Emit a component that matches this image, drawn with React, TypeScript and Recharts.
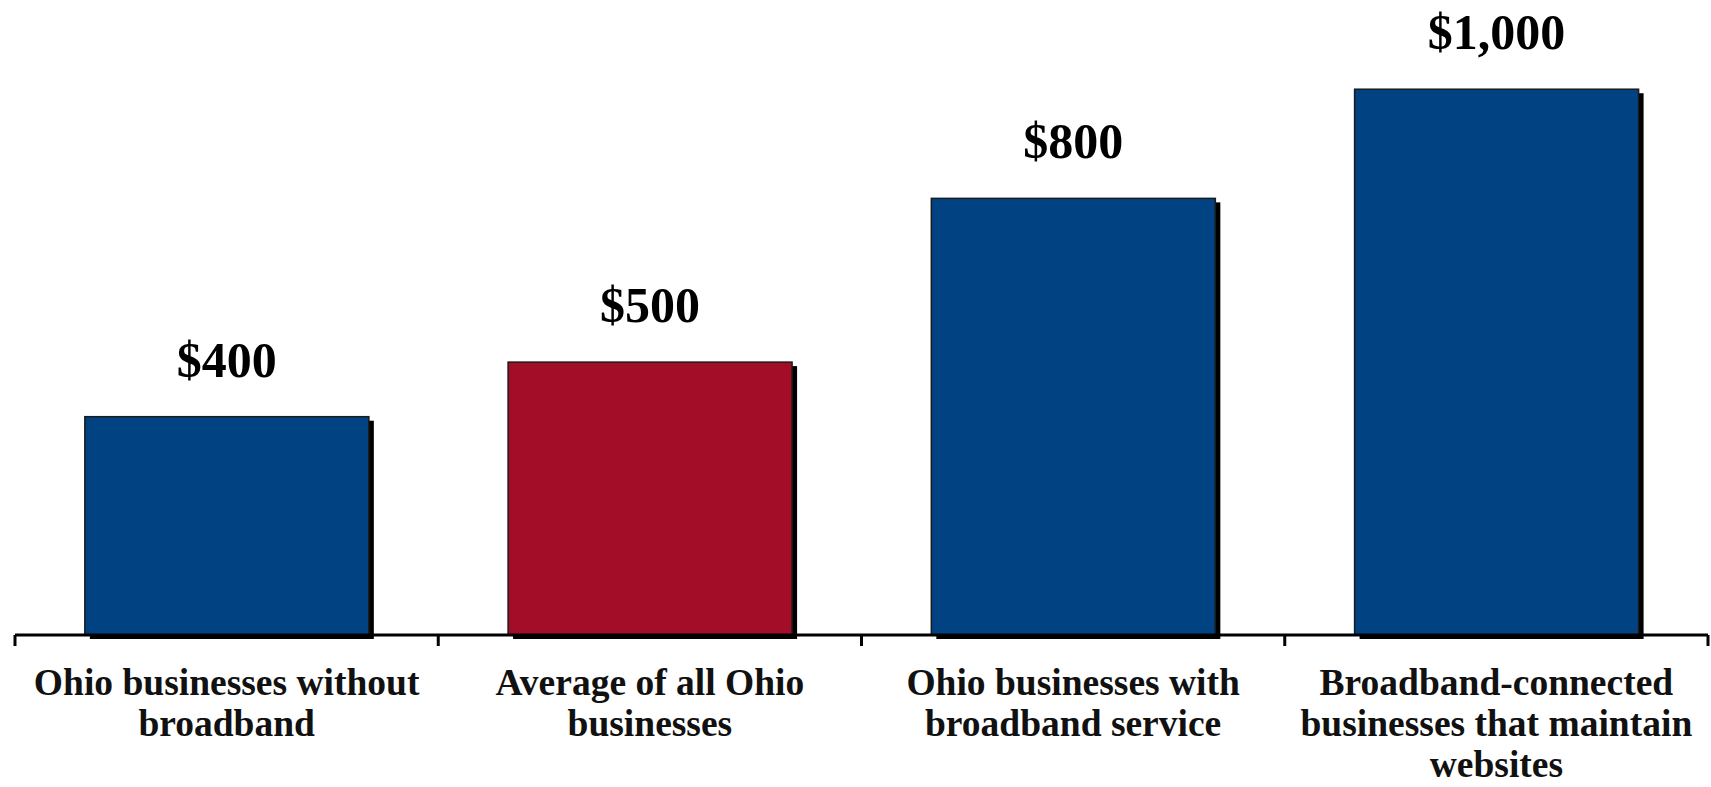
import { BarChart, Bar, XAxis, YAxis, LabelList } from "recharts";

const categories = [
  "Ohio businesses without broadband",
  "Average of all Ohio businesses",
  "Ohio businesses with broadband service",
  "Broadband-connected businesses that maintain websites",
];

const tickLines = [
  ["Ohio businesses without", "broadband"],
  ["Average of all Ohio", "businesses"],
  ["Ohio businesses with", "broadband service"],
  ["Broadband-connected", "businesses that maintain", "websites"],
];

const revenue = [400, 500, 800, 1000];

const highlighted = "Average of all Ohio businesses";

const data = categories.map((name, i) => ({ name, value: revenue[i] }));

const BLUE = "#004282";
const RED = "#A30D28";
const FONT = '"Liberation Serif", "Times New Roman", serif';

const W = 1711;
const H = 787;
const M = { top: 33, right: 3, left: 15, bottom: 0 };
const band = (W - M.left - M.right) / categories.length;

const ShadowBar = (props: any) => {
  const { x, y, width, height, payload } = props;
  const fill = payload.name === highlighted ? RED : BLUE;
  return (
    <g>
      <rect x={x + 5} y={y + 4} width={width} height={height} fill="#000" />
      <rect
        x={x}
        y={y}
        width={width}
        height={height}
        fill={fill}
        stroke="#1a1a1a"
        strokeWidth={1.5}
      />
    </g>
  );
};

const CategoryTick = (props: any) => {
  const { x, y, index } = props;
  const lines = tickLines[index] || [];
  const left = x - band / 2;
  return (
    <g>
      <line x1={left} y1={y} x2={left} y2={y + 11} stroke="#000" strokeWidth={3} />
      {index === categories.length - 1 && (
        <line x1={x + band / 2} y1={y} x2={x + band / 2} y2={y + 11} stroke="#000" strokeWidth={3} />
      )}
      <text
        x={x}
        y={y + 60}
        textAnchor="middle"
        fontFamily={FONT}
        fontWeight="bold"
        fontSize={37.5}
        fill="#111"
      >
        {lines.map((l, i) => (
          <tspan key={i} x={x} dy={i === 0 ? 0 : 41}>
            {l}
          </tspan>
        ))}
      </text>
    </g>
  );
};

export default function App() {
  return (
    <div style={{ position: "absolute", left: 0, top: 0, background: "#fff" }}>
      <BarChart width={W} height={H} data={data} margin={M} barCategoryGap="16.5%">
        <XAxis
          dataKey="name"
          height={152}
          interval={0}
          tickSize={0}
          tickMargin={0}
          tickLine={false}
          axisLine={{ stroke: "#000", strokeWidth: 3 }}
          tick={<CategoryTick />}
        />
        <YAxis hide domain={[0, 1103]} />
        <Bar dataKey="value" isAnimationActive={false} shape={<ShadowBar />}>
          <LabelList
            dataKey="value"
            position="top"
            offset={40}
            formatter={(v: any) => `$${Number(v).toLocaleString("en-US")}`}
            style={{ fontFamily: FONT, fontWeight: "bold", fontSize: 50, fill: "#000" }}
          />
        </Bar>
      </BarChart>
    </div>
  );
}
